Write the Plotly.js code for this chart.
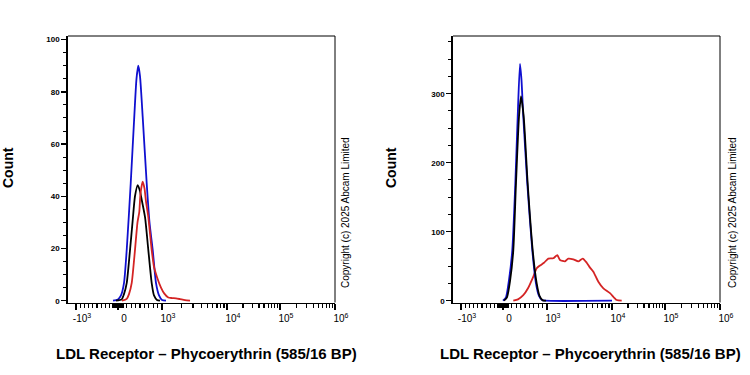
<!DOCTYPE html>
<html><head><meta charset="utf-8">
<script src="https://cdn.plot.ly/plotly-3.0.1.min.js"></script>
<style>html,body{margin:0;padding:0;background:#fff}#chart{width:750px;height:375px}</style>
</head><body><div id="chart"></div>
<script>
// ---- Data (fluorescence intensity vs count) ----
// Left panel
const L_blue_x = [-119, 0, 68, 136, 198, 289, 370, 420, 461, 500, 561, 652, 716, 789, 864, 932, 1000, 1152];
const L_blue_y = [0, 0.5, 2, 6.7, 19.4, 45, 70.5, 85, 90, 86, 70.5, 45, 30, 19.4, 6.7, 2, 0.3, 0];
const L_black_x = [-48, 84, 136, 198, 273, 330, 386, 448, 500, 523, 614, 689, 766, 818, 886, 955];
const L_black_y = [0, 0.5, 2.5, 6.7, 19.4, 30, 40, 44.3, 42, 40, 32, 19.4, 6.7, 2, 0.3, 0];
const L_red_x = [91, 198, 250, 311, 386, 443, 484, 511, 561, 602, 636, 689, 766, 818, 893, 977, 1080, 1250, 1425, 1642, 1893, 2258, 2699];
const L_red_y = [0, 0.7, 2.5, 6.7, 19.4, 30, 34, 41, 45.6, 43, 38, 32, 19.4, 13, 8.7, 5, 2.8, 1.2, 1.0, 0.9, 0.6, 0.2, 0];
// Right panel
const R_blue_x = [0, 68, 136, 211, 280, 334, 386, 420, 461, 552, 666, 750, 818, 886, 955, 10000];
const R_blue_y = [0, 5, 30, 73, 170, 267, 343, 320, 267, 170, 73, 25, 7, 1, 0, 0];
const R_black_x = [23, 91, 159, 234, 295, 364, 409, 470, 561, 675, 766, 830, 902, 977];
const R_black_y = [0, 5, 28, 73, 170, 267, 296, 267, 170, 73, 25, 7, 0.5, 0];
const R_red_x = [234, 341, 461, 568, 689, 766, 841, 932, 1047, 1250, 1440, 1585, 1893, 2126, 2540, 3030, 3543, 4084, 4581, 5163, 6163, 7368, 9309, 12262, 15240];
const R_red_y = [0, 2, 8, 18, 35, 47, 51, 55, 61, 61.5, 66, 59, 57, 61, 60, 57, 61, 55, 48, 42, 27.5, 18, 11, 1, 0];

// Axis ticks
const xTickVals = [-1000, 0, 1000, 1e4, 1e5, 1e6];
const xTickText = ['-10<sup>3</sup>', '0', '10<sup>3</sup>', '10<sup>4</sup>', '10<sup>5</sup>', '10<sup>6</sup>'];
const xTitle = 'LDL Receptor \u2013 Phycoerythrin (585/16 BP)';
const yTitle = 'Count';
const copyright = 'Copyright (c) 2025 Abcam Limited';

// ---- Biexponential-like display transform ----
const anchors = [[1e3, 94], [1e4, 159], [1e5, 212], [1e6, 267]];
function T(v) {
  if (v < 0) return 50 + 0.042 * v;
  if (v <= 1000) return 50 + 0.044 * v;
  for (let i = 0; i < anchors.length - 1; i++) {
    const [a, pa] = anchors[i], [b, pb] = anchors[i + 1];
    if (v <= b || i === anchors.length - 2) {
      return pa + (pb - pa) * Math.log10(v / a) / Math.log10(b / a);
    }
  }
}
const minorVals = [];
for (let k = 1; k <= 9; k++) { minorVals.push(-100 * k, 100 * k, -10 * k, 10 * k); }
for (let k = 1; k <= 5; k++) { minorVals.push(-150 + 20 * k, 150 - 20 * k); }
for (const d of [1e3, 1e4, 1e5]) for (let k = 2; k <= 9; k++) minorVals.push(k * d);

const font = 'Arial, "Liberation Sans", sans-serif';
const colors = {blue: '#1010d0', black: '#000000', red: '#d42424'};
function tr(xs, ys, color, xa, ya) {
  return {x: xs.map(T), y: ys, type: 'scatter', mode: 'lines', xaxis: xa, yaxis: ya,
    line: {color: color, width: 1.8, shape: 'spline', smoothing: 0.6}, hoverinfo: 'skip'};
}
const data = [
  tr(L_blue_x, L_blue_y, colors.blue, 'x', 'y'),
  tr(L_black_x, L_black_y, colors.black, 'x', 'y'),
  tr(L_red_x, L_red_y, colors.red, 'x', 'y'),
  tr(R_red_x, R_red_y, colors.red, 'x2', 'y2'),
  tr(R_blue_x, R_blue_y, colors.blue, 'x2', 'y2'),
  tr(R_black_x, R_black_y, colors.black, 'x2', 'y2'),
];

function xaxis(domain, anchor) {
  return {domain: domain, anchor: anchor, range: [0, 267], showgrid: false, zeroline: false,
    showline: true, linecolor: '#000', linewidth: 1.8,
    tickmode: 'array', tickvals: xTickVals.map(T), ticktext: xTickText,
    ticks: 'outside', ticklen: 6, tickwidth: 1.8, tickcolor: '#000', ticklabelshift: 6,
    tickfont: {family: font, size: 10, color: '#000'},
    minor: {tickmode: 'array', tickvals: minorVals.map(T), ticks: 'outside', ticklen: 4, tickwidth: 1.2, tickcolor: '#000'}};
}
function yaxis(domain, anchor, range, dtick, mdtick) {
  return {domain: domain, anchor: anchor, range: range, showgrid: false, zeroline: false,
    showline: true, linecolor: '#000', linewidth: 1.8,
    tickmode: 'linear', tick0: 0, dtick: dtick, ticks: 'outside', ticklen: 5, tickwidth: 1.5, tickcolor: '#000',
    tickfont: {family: font, size: 8, color: '#000', weight: 'bold'},
    minor: {dtick: mdtick, tick0: 0, ticks: 'outside', ticklen: 3, tickwidth: 1, tickcolor: '#000'}};
}
function ann(text, px, py, size, angle, bold) {
  return {text: text, xref: 'paper', yref: 'paper', x: px / 750, y: 1 - py / 375,
    xanchor: 'center', yanchor: 'middle', textangle: angle, showarrow: false,
    font: {family: font, size: size, color: '#000', weight: bold ? 'bold' : 'normal'}};
}
const yd = [0.1933, 0.904];
const layout = {
  width: 750, height: 375, margin: {l: 0, r: 0, t: 0, b: 0},
  paper_bgcolor: '#fff', plot_bgcolor: '#fff', showlegend: false,
  xaxis: xaxis([68 / 750, 335 / 750], 'y'),
  yaxis: yaxis(yd, 'x', [-0.7, 101.4], 20, 5),
  xaxis2: xaxis([453 / 750, 720 / 750], 'y2'),
  yaxis2: yaxis(yd, 'x2', [-2.6, 383.6], 100, 25),
  shapes: [
    {type: 'line', xref: 'x domain', yref: 'y domain', x0: 0, x1: 1, y0: 1, y1: 1, line: {color: '#000', width: 1}},
    {type: 'line', xref: 'x domain', yref: 'y domain', x0: 1, x1: 1, y0: 0, y1: 1, line: {color: '#000', width: 1}},
    {type: 'line', xref: 'x2 domain', yref: 'y2 domain', x0: 0, x1: 1, y0: 1, y1: 1, line: {color: '#000', width: 1}},
    {type: 'line', xref: 'x2 domain', yref: 'y2 domain', x0: 1, x1: 1, y0: 0, y1: 1, line: {color: '#000', width: 1}},
  ],
  annotations: [
    ann(yTitle, 8, 168, 14, -90, true),
    ann(yTitle, 391, 168, 14, -90, true),
    ann(xTitle, 206, 353, 15, 0, true),
    ann(xTitle, 590, 353, 15, 0, true),
    ann(copyright, 346, 213, 10, -90, false),
    ann(copyright, 733, 213, 10, -90, false),
  ]
};
Plotly.newPlot('chart', data, layout, {staticPlot: true, displayModeBar: false});
</script></body></html>
